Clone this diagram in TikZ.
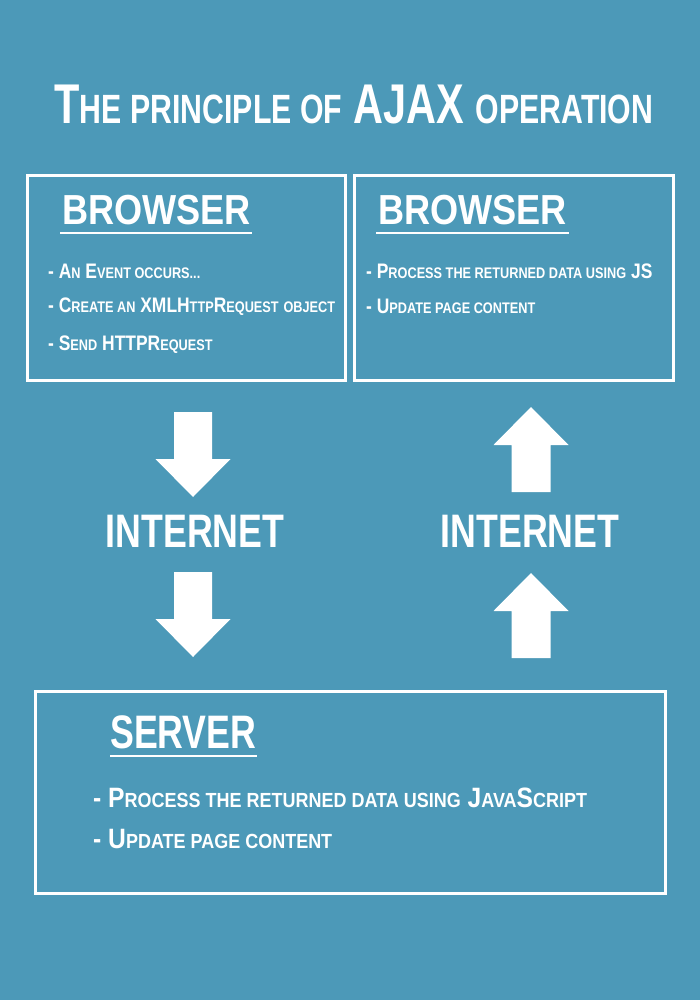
\documentclass[tikz,border=0pt]{standalone}
\usepackage{fontspec}
\setmainfont{Liberation Sans}[FakeStretch=0.8]
\newfontfamily\titlefont{Liberation Sans}[FakeStretch=0.74]
\newfontfamily\headfont{Liberation Sans}[FakeStretch=0.86]
\newfontfamily\wordfont{Liberation Sans}[FakeStretch=0.76]
\newfontfamily\itemfont{Liberation Sans}[FakeStretch=0.83]
\newfontfamily\serveritemfont{Liberation Sans}[FakeStretch=0.88]
\usetikzlibrary{positioning}
\definecolor{bgblue}{RGB}{76,153,184}

\makeatletter
\newcommand\smallcap[1]{{\fontsize{\fpeval{0.73*\f@size}}{\fpeval{0.73*\f@size}}\selectfont\MakeUppercase{#1}}}
\makeatother

\begin{document}
\begin{tikzpicture}[
    x=1pt, y=-1pt,
    panel/.style={draw=white, line width=3pt, inner sep=0pt},
    heading/.style={font=\headfont\fontsize{42}{42}\selectfont\bfseries, text=white, inner sep=0pt, anchor=base west},
    bigword/.style={font=\wordfont\fontsize{47}{47}\selectfont\bfseries, text=white, inner sep=0pt, anchor=base},
    item/.style={font=\itemfont\fontsize{21}{21}\selectfont\bfseries, text=white, inner sep=0pt, anchor=base west},
    bigitem/.style={font=\serveritemfont\fontsize{28}{28}\selectfont\bfseries, text=white, inner sep=0pt, anchor=base west},
    uline/.style={draw=white, line width=2pt},
    downarrow/.pic={\fill[white] (-19,0) -- (19,0) -- (19,47) -- (37.5,47) -- (0,85) -- (-37.5,47) -- (-19,47) -- cycle;},
    uparrow/.pic={\fill[white] (0,0) -- (37.5,38) -- (19.5,38) -- (19.5,85) -- (-19.5,85) -- (-19.5,38) -- (-37.5,38) -- cycle;}
]
\fill[bgblue] (0,0) rectangle (700,1000);
\useasboundingbox (0,0) rectangle (700,1000);

% Title
\node[font=\titlefont\fontsize{56}{56}\selectfont\bfseries, text=white, inner sep=0pt, anchor=base] (title) at (354,124)
    {T\smallcap{he principle of} AJAX \smallcap{operation}};

% Panels
\node[panel, minimum width=318pt, minimum height=205pt] (bleft)  at (186.5,278) {};
\node[panel, minimum width=319pt, minimum height=205pt] (bright) at (514,278) {};
\node[panel, minimum width=630pt, minimum height=202pt] (server) at (350.5,792.5) {};

% Browser (request side)
\node[heading] (hleft) at (62,225) {BROWSER};
\draw[uline] ([xshift=-2pt, yshift=-8pt]hleft.base west) -- ([xshift=1pt, yshift=-8pt]hleft.base east);
\node[item] (l1) at (48,278) {- A\smallcap{n} E\smallcap{vent occurs...}};
\node[item] (l2) at (48,312) {- C\smallcap{reate an} XMLH\smallcap{ttp}R\smallcap{equest} \smallcap{object}};
\node[item] (l3) at (48,350) {- S\smallcap{end} HTTPR\smallcap{equest}};

% Browser (response side)
\node[heading] (hright) at (378,225) {BROWSER};
\draw[uline] ([xshift=-2pt, yshift=-8pt]hright.base west) -- ([xshift=2pt, yshift=-8pt]hright.base east);
\node[item] (r1) at (366,278) {- P\smallcap{rocess the returned data using} JS};
\node[item] (r2) at (366,313) {- U\smallcap{pdate page content}};

% Internet
\pic at (193,412) {downarrow};
\node[bigword] (netleft) at (195,547) {INTERNET};
\pic at (193,572) {downarrow};

\pic at (531,407) {uparrow};
\node[bigword] (netright) at (530,547) {INTERNET};
\pic at (531,573) {uparrow};

% Server
\node[heading, font=\wordfont\fontsize{47}{47}\selectfont\bfseries] (hserver) at (110,748) {SERVER};
\draw[uline] ([yshift=-8pt]hserver.base west) -- ([yshift=-8pt]hserver.base east);
\node[bigitem] (s1) at (93,807) {- P\smallcap{rocess the returned data using} J\smallcap{ava}S\smallcap{cript}};
\node[bigitem] (s2) at (93,848) {- U\smallcap{pdate page content}};
\end{tikzpicture}
\end{document}
